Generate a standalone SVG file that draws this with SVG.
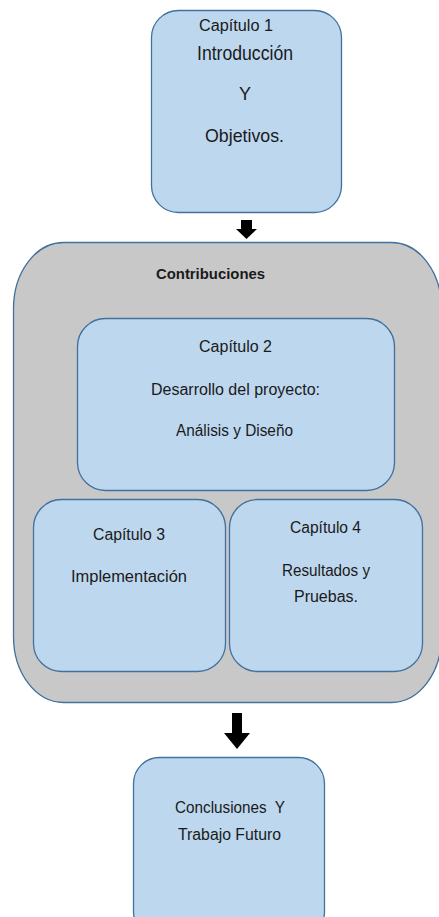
<svg xmlns="http://www.w3.org/2000/svg" width="439" height="917" viewBox="0 0 439 917">
<style>
.box{fill:#BDD7EE;stroke:#41719C;stroke-width:1.3}
.cont{fill:#C8C8C8;stroke:#41719C;stroke-width:1.3}
.t{font-family:"Liberation Sans",Arial,sans-serif;font-size:16px;fill:#1a1a1a;text-anchor:middle}
.b{font-weight:bold;font-size:15px}
.arrow{fill:#000}
</style>
<rect width="439" height="917" fill="#fff"/>
<g id="n-cap1">
<rect class="box" x="151.5" y="10.5" width="190" height="202" rx="27" ry="27"/>
<text class="t" x="236" y="31" textLength="74" lengthAdjust="spacingAndGlyphs">Capítulo 1</text>
<text class="t" x="245" y="60" style="font-size:20px" textLength="96" lengthAdjust="spacingAndGlyphs">Introducción</text>
<text class="t" x="245" y="100" style="font-size:18px">Y</text>
<text class="t" x="244.5" y="142" style="font-size:19px" textLength="79" lengthAdjust="spacingAndGlyphs">Objetivos.</text>
</g>
<g id="n-contribuciones">
<rect class="cont" x="13.5" y="242.5" width="428" height="460" rx="50" ry="66"/>
<text class="t b" x="210.5" y="279" textLength="109" lengthAdjust="spacingAndGlyphs">Contribuciones</text>
</g>
<g id="n-cap2">
<rect class="box" x="77.5" y="318.5" width="317" height="172" rx="28" ry="28"/>
<text class="t" x="235.5" y="352" textLength="73" lengthAdjust="spacingAndGlyphs">Capítulo 2</text>
<text class="t" x="235.5" y="395" textLength="169" lengthAdjust="spacingAndGlyphs">Desarrollo del proyecto:</text>
<text class="t" x="234.5" y="436" textLength="117" lengthAdjust="spacingAndGlyphs">Análisis y Diseño</text>
</g>
<g id="n-cap3">
<rect class="box" x="33.5" y="499.5" width="192" height="172" rx="28" ry="28"/>
<text class="t" x="129" y="540" textLength="72" lengthAdjust="spacingAndGlyphs">Capítulo 3</text>
<text class="t" x="129" y="582" textLength="116" lengthAdjust="spacingAndGlyphs">Implementación</text>
</g>
<g id="n-cap4">
<rect class="box" x="229.5" y="499.5" width="193" height="172" rx="28" ry="28"/>
<text class="t" x="325.5" y="533" textLength="71" lengthAdjust="spacingAndGlyphs">Capítulo 4</text>
<text class="t" x="326" y="576" textLength="88" lengthAdjust="spacingAndGlyphs">Resultados y</text>
<text class="t" x="326" y="602">Pruebas.</text>
</g>
<g id="n-conclusiones">
<rect class="box" x="133.5" y="757.5" width="191" height="180" rx="26" ry="26"/>
<text class="t" x="230" y="813" textLength="110" lengthAdjust="spacingAndGlyphs" xml:space="preserve">Conclusiones  Y</text>
<text class="t" x="229.5" y="840" textLength="103" lengthAdjust="spacingAndGlyphs">Trabajo Futuro</text>
</g>
<g id="connectors">
<polygon class="arrow" points="241,220 252,220 252,229 257,229 246.5,239 236,229 241,229"/>
<polygon class="arrow" points="232,713 242,713 242,733 250,733 237,749 224,733 232,733"/>
</g>
</svg>
